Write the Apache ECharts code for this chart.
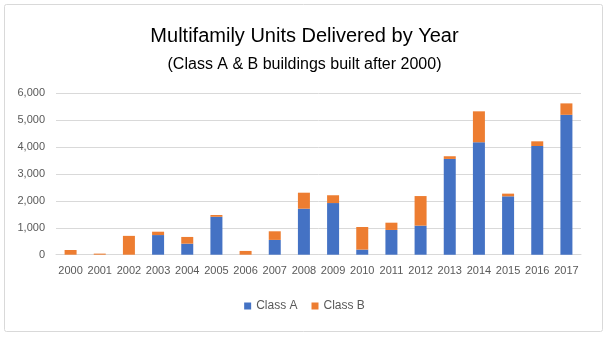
<!DOCTYPE html>
<html>
<head>
<meta charset="utf-8">
<script src="https://cdn.jsdelivr.net/npm/echarts@6/dist/echarts.min.js"></script>
<style>
  html, body { margin: 0; padding: 0; background: #fff; }
  #chart { width: 609px; height: 338px; }
</style>
</head>
<body>
<div id="chart"></div>
<script>
// Multifamily units delivered per year, split by building class
const years = ['2000','2001','2002','2003','2004','2005','2006','2007','2008',
               '2009','2010','2011','2012','2013','2014','2015','2016','2017'];
const classA = [0, 0, 0, 730, 410, 1410, 0, 550, 1710,
                1920, 190, 920, 1080, 3560, 4180, 2170, 4040, 5200];
const classB = [175, 40, 700, 125, 250, 65, 140, 320, 595,
                290, 840, 270, 1100, 100, 1150, 100, 175, 425];
const yTicks = { min: 0, max: 6000, step: 1000 };

const axisText = '#595959';
const gridLine = '#D9D9D9';
const font = 'Liberation Sans, Arial, sans-serif';

const chart = echarts.init(document.getElementById('chart'), null, { renderer: 'canvas' });

chart.setOption({
  backgroundColor: '#fff',
  animation: false,
  textStyle: { fontFamily: font },
  title: [
    {
      text: 'Multifamily Units Delivered by Year',
      left: 'center', top: 21,
      textStyle: { fontSize: 20, fontWeight: 'normal', color: '#000', fontFamily: font }
    },
    {
      text: '(Class A & B buildings built after 2000)',
      left: 'center', top: 52,
      textStyle: { fontSize: 16, fontWeight: 'normal', color: '#000', fontFamily: font }
    }
  ],
  graphic: [{
    type: 'rect',
    shape: { x: 4.5, y: 4.5, width: 598, height: 327, r: 2 },
    style: { fill: 'none', stroke: gridLine, lineWidth: 1 },
    silent: true
  }],
  legend: {
    data: ['Class A', 'Class B'],
    left: 'center', top: 295,
    icon: 'rect', itemWidth: 7, itemHeight: 7, itemGap: 14,
    textStyle: { color: axisText, fontSize: 12, fontFamily: font }
  },
  grid: { left: 56, right: 28, top: 93.3, bottom: 83.3, containLabel: false },
  xAxis: {
    type: 'category',
    data: years,
    axisLine: { lineStyle: { color: gridLine } },
    axisTick: { show: false },
    axisLabel: { color: axisText, fontSize: 11, margin: 11, interval: 0 }
  },
  yAxis: {
    type: 'value',
    min: yTicks.min, max: yTicks.max, interval: yTicks.step,
    axisLine: { show: false },
    axisTick: { show: false },
    splitLine: { lineStyle: { color: gridLine } },
    axisLabel: {
      color: axisText, fontSize: 11, margin: 11,
      formatter: v => v.toLocaleString('en-US')
    }
  },
  series: [
    {
      name: 'Class A', type: 'bar', stack: 'units',
      data: classA, barWidth: 12,
      itemStyle: { color: '#4472C4' }
    },
    {
      name: 'Class B', type: 'bar', stack: 'units',
      data: classB, barWidth: 12,
      itemStyle: { color: '#ED7D31' }
    }
  ]
});
</script>
</body>
</html>
